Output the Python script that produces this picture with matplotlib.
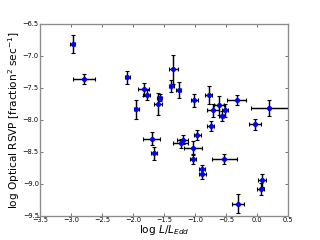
import numpy as np
import matplotlib
matplotlib.use('Agg')
import matplotlib.pyplot as plt

# log L/L_Edd and optical RSVP
logL = np.array([-2.97, -2.79, -2.09, -1.83, -1.78, -1.95, -1.57, -1.60, -1.35, -1.38,
                 -1.26, -1.01, -0.78, -0.61, -0.71, -0.51, -0.57, -0.33, 0.20, -0.03,
                 -0.75, -1.70, -1.66, -1.20, -1.23, -0.96, -1.03, -1.03, -0.89, -0.88,
                 -0.53, 0.08, 0.06, -0.31])
rsvp = np.array([-6.81, -7.36, -7.33, -7.52, -7.61, -7.83, -7.65, -7.75, -7.21, -7.47,
                 -7.53, -7.69, -7.61, -7.77, -7.85, -7.85, -7.94, -7.69, -7.81, -8.07,
                 -8.09, -8.29, -8.52, -8.31, -8.36, -8.23, -8.43, -8.61, -8.77, -8.84,
                 -8.61, -8.94, -9.08, -9.31])
xerr = np.array([0.04, 0.17, 0.04, 0.09, 0.06, 0.04, 0.04, 0.06, 0.07, 0.04,
                 0.04, 0.06, 0.06, 0.08, 0.10, 0.05, 0.04, 0.15, 0.30, 0.10,
                 0.06, 0.14, 0.05, 0.09, 0.12, 0.05, 0.15, 0.05, 0.05, 0.06,
                 0.20, 0.07, 0.06, 0.10])
yerr = np.array([0.14, 0.08, 0.10, 0.10, 0.08, 0.15, 0.05, 0.17, 0.23, 0.10,
                 0.12, 0.10, 0.14, 0.15, 0.10, 0.10, 0.08, 0.08, 0.13, 0.08,
                 0.08, 0.10, 0.10, 0.07, 0.07, 0.08, 0.10, 0.07, 0.06, 0.08,
                 0.08, 0.10, 0.09, 0.15])

fig = plt.figure(figsize=(4, 3), dpi=80)
ax = fig.add_axes([0.125, 0.1, 0.775, 0.8])

ax.errorbar(logL, rsvp, xerr=xerr, yerr=yerr, fmt='o', color='b', ms=3.5, mec='b',
            ecolor='k', elinewidth=1.3, capsize=2, capthick=1)

ax.set_xlim(-3.5, 0.5)
ax.set_ylim(-9.5, -6.5)
ax.set_xticks(np.arange(-3.5, 0.51, 0.5))
ax.set_yticks(np.arange(-9.5, -6.49, 0.5))
ax.tick_params(direction='in', top=True, right=True, labelsize=6, length=3, color='0.4', pad=1)
for s in ax.spines.values():
    s.set_color('0.55')
    s.set_linewidth(1.2)

ax.set_xlabel(r'log $L/L_{Edd}$', fontsize=9.5, labelpad=0)
ax.set_ylabel(r'log Optical RSVP [fraction$^2$ sec$^{-1}$]', fontsize=9.5, labelpad=1)

fig.savefig('out.png', dpi=80)
